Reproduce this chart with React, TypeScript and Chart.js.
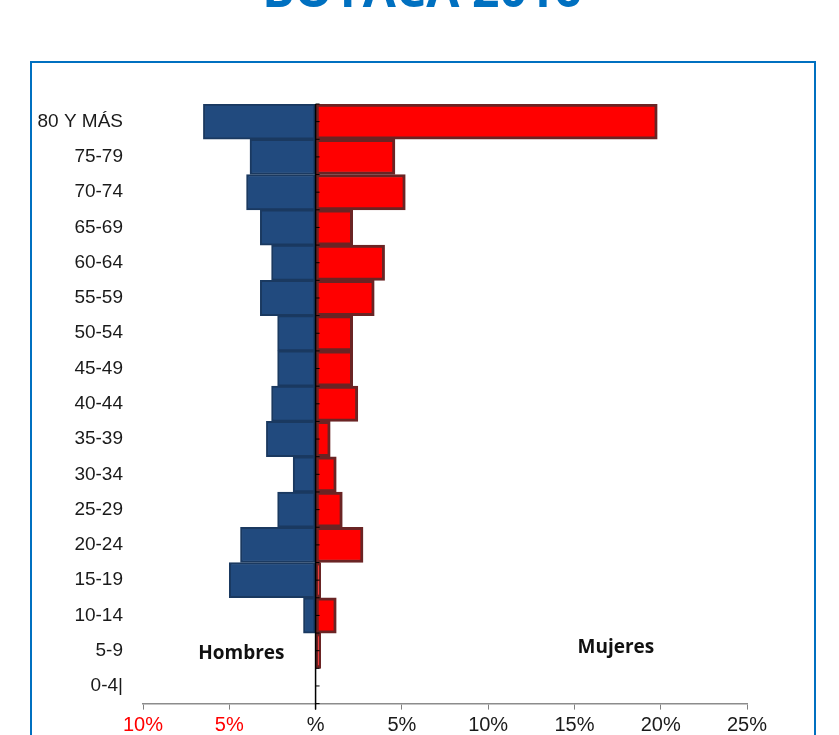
import React, { useEffect, useRef } from "react";
import { Chart, registerables } from "chart.js";

Chart.register(...registerables);

const categories = ["80 Y MÁS", "75-79", "70-74", "65-69", "60-64", "55-59", "50-54", "45-49", "40-44", "35-39", "30-34", "25-29", "20-24", "15-19", "10-14", "5-9", "0-4|"];
const hombres = [6.5, 3.8, 4.0, 3.2, 2.55, 3.2, 2.2, 2.2, 2.55, 2.85, 1.3, 2.2, 4.35, 5.0, 0.7, 0, 0];
const mujeres = [19.8, 4.6, 5.2, 2.15, 4.0, 3.4, 2.15, 2.15, 2.45, 0.85, 1.2, 1.55, 2.75, 0.3, 1.2, 0.3, 0];
const xTicksMin = -10;
const xTicksMax = 25;
const xStep = 5;
const titulo = "BOYACÁ 2016";
const etiquetaHombres = "Hombres";
const etiquetaMujeres = "Mujeres";

const decorPlugin = {
  id: "decor",
  beforeDraw(chart: any) {
    const ctx = chart.ctx;
    ctx.save();
    ctx.fillStyle = "#ffffff";
    ctx.fillRect(0, 0, chart.width, chart.height);
    // frame
    ctx.strokeStyle = "#0070C0";
    ctx.lineWidth = 2;
    ctx.strokeRect(31, 62, 784, 700);
    // title
    ctx.fillStyle = "#0070C0";
    ctx.font = "bold 48px 'Open Sans', sans-serif";
    ctx.textAlign = "center";
    ctx.textBaseline = "alphabetic";
    ctx.fillText(titulo, 422, 7);
    ctx.restore();
  },
  afterDatasetsDraw(chart: any) {
    const ctx = chart.ctx;
    const xs = chart.scales.x;
    const ys = chart.scales.y;
    const x0 = xs.getPixelForValue(0);
    const area = chart.chartArea;
    ctx.save();
    // zero line
    ctx.strokeStyle = "#000000";
    ctx.lineWidth = 1.5;
    ctx.beginPath();
    ctx.moveTo(x0, area.top);
    ctx.lineTo(x0, area.bottom + 6);
    ctx.stroke();
    // small ticks on zero line
    const band = (area.bottom - area.top) / categories.length;
    ctx.lineWidth = 1;
    for (let i = 0; i <= categories.length * 2; i++) {
      const y = area.top + (i * band) / 2;
      ctx.beginPath();
      ctx.moveTo(x0, y);
      ctx.lineTo(x0 + 4, y);
      ctx.stroke();
    }
    // annotations
    ctx.fillStyle = "#111111";
    ctx.font = "bold 19px 'Open Sans', sans-serif";
    ctx.textAlign = "center";
    ctx.textBaseline = "alphabetic";
    const y59 = ys.getPixelForValue(15);
    ctx.fillText(etiquetaHombres, xs.getPixelForValue(-4.3), y59 + 8);
    ctx.fillText(etiquetaMujeres, xs.getPixelForValue(17.4), y59 + 2);
    ctx.restore();
  },
};

export default function App() {
  const ref = useRef<HTMLCanvasElement | null>(null);
  useEffect(() => {
    if (!ref.current) return;
    Chart.defaults.font.family = "'Liberation Sans', Arial, sans-serif";
    const chart = new Chart(ref.current, {
      type: "bar",
      data: {
        labels: categories,
        datasets: [
          {
            label: "Hombres",
            data: hombres.map((v) => -v),
            backgroundColor: "#214A7E",
            borderColor: "#1A3960",
            borderWidth: 2,
            borderSkipped: false,
            barPercentage: 1,
            categoryPercentage: 1,
          },
          {
            label: "Mujeres",
            data: mujeres,
            backgroundColor: "#FF0000",
            borderColor: "#6A2424",
            borderWidth: 3,
            borderSkipped: false,
            barPercentage: 1,
            categoryPercentage: 1,
          },
        ],
      },
      options: {
        indexAxis: "y",
        animation: false,
        responsive: true,
        maintainAspectRatio: false,
        layout: { padding: { top: 104, right: 92, bottom: 0, left: 0 } },
        plugins: { legend: { display: false }, tooltip: { enabled: false }, title: { display: false } },
        scales: {
          x: {
            stacked: true,
            min: xTicksMin,
            max: xTicksMax,
            ticks: {
              stepSize: xStep,
              padding: 4,
              font: { size: 20 },
              color: (c: any) => (c.tick && c.tick.value < 0 ? "#FF0000" : "#1a1a1a"),
              callback: (v: any) => (Number(v) === 0 ? "%" : Math.abs(Number(v)) + "%"),
            },
            grid: {
              drawOnChartArea: false,
              drawTicks: true,
              tickLength: 6,
              tickColor: (c: any) => (c.tick && c.tick.value === 0 ? "#000000" : "#808080"),
            },
            border: { display: true, color: "#8c8c8c", width: 1.5 },
            afterFit: (s: any) => {
              s.height = 28;
            },
          },
          y: {
            stacked: true,
            ticks: { font: { size: 19 }, color: "#1a1a1a", padding: 20 },
            grid: { display: false, drawTicks: false },
            border: { display: false },
            afterFit: (s: any) => {
              s.width = 143;
            },
          },
        },
      },
      plugins: [decorPlugin],
    });
    return () => chart.destroy();
  }, []);
  return (
    <div style={{ position: "absolute", left: 0, top: 0, width: 839, height: 735 }}>
      <canvas ref={ref} />
    </div>
  );
}
